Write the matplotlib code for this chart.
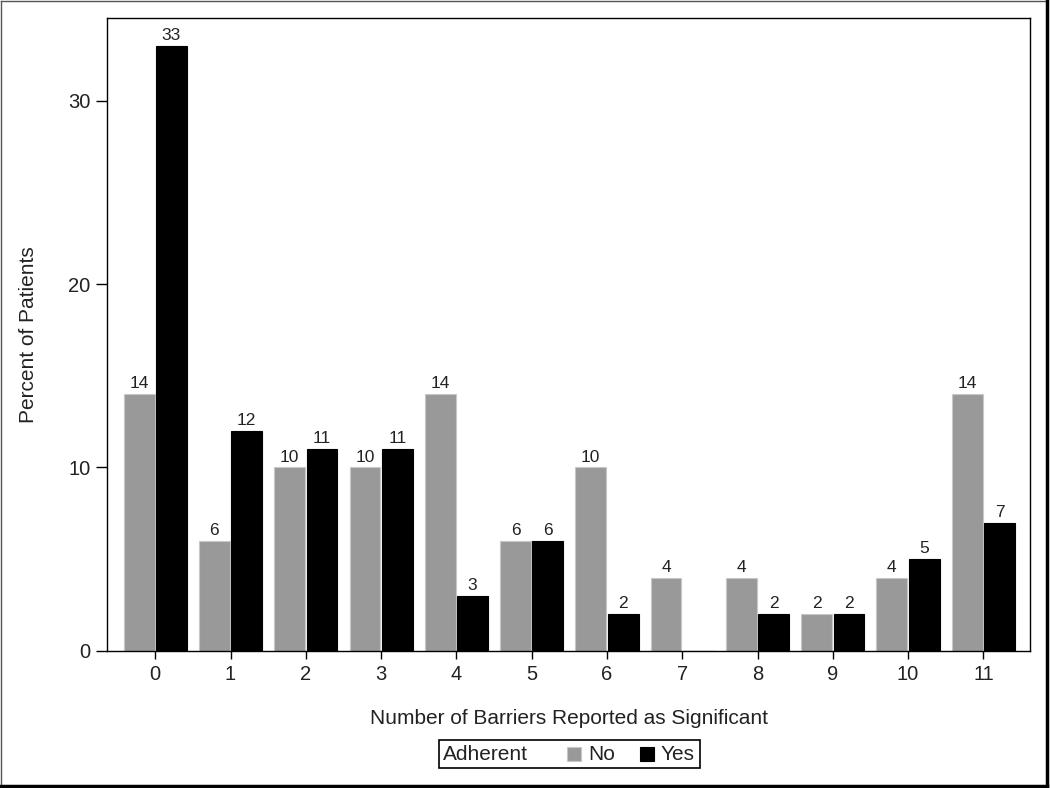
import numpy as np
import matplotlib.pyplot as plt
from matplotlib.lines import Line2D
from matplotlib.patches import Rectangle
from matplotlib.offsetbox import AnchoredOffsetbox, HPacker, TextArea, DrawingArea

plt.rcParams['font.family'] = ['Liberation Sans', 'DejaVu Sans']

# Percent of patients by number of significant barriers
barriers = [str(i) for i in range(12)]
pct_no = [14, 6, 10, 10, 14, 6, 10, 4, 4, 2, 4, 14]
pct_yes = [33, 12, 11, 11, 3, 6, 2, 0, 2, 2, 5, 7]

gray = '#999999'
fig = plt.figure(figsize=(10.5, 7.88), dpi=100)
ax = fig.add_axes([0.102, 0.174, 0.879, 0.803])

x = np.arange(len(barriers))
w = 0.41
b_no = ax.bar(x - w / 2 - 0.01, pct_no, w, color=gray, edgecolor='#c8c8c8', linewidth=0.8)
b_yes = ax.bar(x + w / 2 + 0.01, pct_yes, w, color='black', edgecolor='black', linewidth=0.8)

for bars, vals in [(b_no, pct_no), (b_yes, pct_yes)]:
    for rect, v in zip(bars, vals):
        if v == 0:
            continue
        ax.annotate(str(v), (rect.get_x() + rect.get_width() / 2, v),
                    xytext=(0, 2), textcoords='offset points',
                    ha='center', va='bottom', fontsize=12.5, color='#222222')

ax.set_xlim(-0.64, 11.62)
ax.set_ylim(0, 34.5)
ax.set_xticks(x)
ax.set_xticklabels(barriers)
ax.set_yticks([0, 10, 20, 30])
ax.tick_params(axis='x', direction='out', length=6, width=1, labelsize=14.5, pad=4,
               labelcolor='#222222')
ax.tick_params(axis='y', direction='out', length=8, width=1, labelsize=14.5, pad=4,
               labelcolor='#222222')
for s in ax.spines.values():
    s.set_linewidth(1)
ax.set_xlabel('Number of Barriers Reported as Significant', fontsize=15, labelpad=18,
              color='#222222')
ax.set_ylabel('Percent of Patients', fontsize=15, labelpad=22, color='#222222')

# legend: "Adherent  [] No  [] Yes" in a box
def swatch(c):
    d = DrawingArea(10, 10, 0, 0)
    d.add_artist(Rectangle((0, 0), 10, 10, facecolor=c,
                           edgecolor='#c8c8c8' if c == gray else 'black', lw=0.8))
    return d

tp = dict(fontsize=15, color='#222222')
items = [TextArea('Adherent', textprops=tp), DrawingArea(18, 10),
         swatch(gray), TextArea('No', textprops=tp), DrawingArea(8, 10),
         swatch('black'), TextArea('Yes', textprops=tp)]
box = HPacker(children=items, align='center', pad=0, sep=5)
leg = AnchoredOffsetbox(loc='center', child=box, pad=0.35, borderpad=0,
                        bbox_to_anchor=(0.542, 0.043), bbox_transform=fig.transFigure,
                        frameon=True)
leg.patch.set_edgecolor('black')
leg.patch.set_linewidth(1.2)
leg.patch.set_boxstyle('square', pad=0)
fig.add_artist(leg)

# outer border
fig.add_artist(Line2D([0.001, 0.001], [0.002, 0.999], transform=fig.transFigure, color='#555555', lw=1))
fig.add_artist(Line2D([0.001, 0.997], [0.999, 0.999], transform=fig.transFigure, color='#555555', lw=1))
fig.add_artist(Line2D([0.997, 0.997], [0.002, 0.999], transform=fig.transFigure, color='black', lw=2.5))
fig.add_artist(Line2D([0.001, 0.997], [0.003, 0.003], transform=fig.transFigure, color='black', lw=2.5))

fig.savefig('out.png', dpi=100)
